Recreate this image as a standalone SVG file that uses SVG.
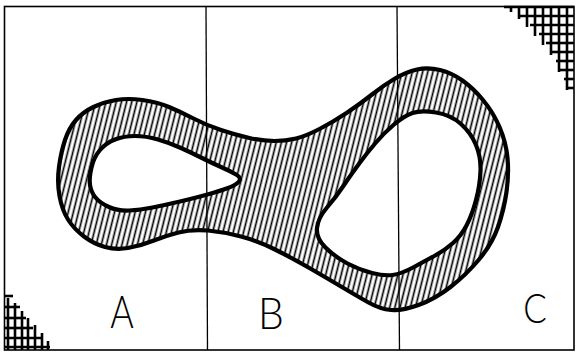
<svg xmlns="http://www.w3.org/2000/svg" width="576" height="353" viewBox="0 0 576 353">
<style>
.frame{fill:none;stroke:#000;stroke-width:1.6}
.div{fill:none;stroke:#000;stroke-width:1.3}
.edge{fill:none;stroke:#000;stroke-width:4.2;stroke-linejoin:round}
.band{fill:url(#hatch);fill-rule:evenodd;stroke:none}
.xh{stroke:#000;stroke-width:2.6;stroke-linecap:butt}
.lbl{font-family:Lato,"Open Sans","Liberation Sans",sans-serif;font-weight:300;fill:#000;text-anchor:middle}
</style>
<defs>
<pattern id="hatch" patternUnits="userSpaceOnUse" width="5" height="10" patternTransform="rotate(14)">
<rect width="5" height="10" fill="#fff"/>
<line x1="2.5" y1="0" x2="2.5" y2="10" stroke="#000" stroke-width="1.7"/>
</pattern>
<path id="outer" d="M59.5,196 Q57,182 59,167 Q61,152 65,140 Q69,128 76,120 Q83,112 93.5,107 Q104,102 116,100 Q128,98 142.5,100 Q157,102 169,107 Q181,112 193.5,118.5 Q206,125 221,130 Q236,135 249.5,138 Q263,141 274.5,141 Q286,141 296,138.5 Q306,136 319.5,129 Q333,122 346.5,113 Q360,104 372,94.5 Q384,85 395,78.5 Q406,72 417,69.5 Q428,67 440,70 Q452,73 462.5,80.5 Q473,88 483,100 Q493,112 499.5,127 Q506,142 507.5,158 Q509,174 506.5,192 Q504,210 498,227 Q492,244 479,259.5 Q466,275 450.5,287 Q435,299 418.5,305 Q402,311 391,310 Q380,309 368.5,302.5 Q357,296 341,286.5 Q325,277 308.5,267.5 Q292,258 275,249.5 Q258,241 241,236.5 Q224,232 208,230.5 Q192,229 178.5,232.5 Q165,236 152.5,241 Q140,246 128,248 Q116,250 105,247 Q94,244 84,236.5 Q74,229 68,219.5 Q62,210 59.5,196 Z"/>
<path id="holeA" d="M90,185 Q89,178 91.5,167.5 Q94,157 100,150 Q106,143 115,139.5 Q124,136 135,136 Q146,136 158,139.5 Q170,143 181,148 Q192,153 202,158 Q212,163 221,167 Q230,171 236,174.5 Q242,178 239,181.5 Q236,185 228,188 Q220,191 207.5,194.5 Q195,198 180,201.5 Q165,205 152.5,207.5 Q140,210 129,210.5 Q118,211 109,207 Q100,203 95.5,197.5 Q91,192 90,185 Z"/>
<path id="holeC" d="M375.5,143 Q384,133 394,124.5 Q404,116 412.5,113 Q421,110 436,112.5 Q451,115 461,124 Q471,133 476,145 Q481,157 480.5,171 Q480,185 476,200 Q472,215 466.5,225.5 Q461,236 453,243 Q445,250 436,255 Q427,260 414,267 Q401,274 392.5,275 Q384,276 372,273 Q360,270 347.5,263.5 Q335,257 325.5,247.5 Q316,238 317,228 Q318,218 327,207.5 Q336,197 343,186.5 Q350,176 358.5,164.5 Q367,153 375.5,143 Z"/>
</defs>
<rect width="576" height="353" fill="#fff"/>
<g id="band">
<path class="band" d="M59.5,196 Q57,182 59,167 Q61,152 65,140 Q69,128 76,120 Q83,112 93.5,107 Q104,102 116,100 Q128,98 142.5,100 Q157,102 169,107 Q181,112 193.5,118.5 Q206,125 221,130 Q236,135 249.5,138 Q263,141 274.5,141 Q286,141 296,138.5 Q306,136 319.5,129 Q333,122 346.5,113 Q360,104 372,94.5 Q384,85 395,78.5 Q406,72 417,69.5 Q428,67 440,70 Q452,73 462.5,80.5 Q473,88 483,100 Q493,112 499.5,127 Q506,142 507.5,158 Q509,174 506.5,192 Q504,210 498,227 Q492,244 479,259.5 Q466,275 450.5,287 Q435,299 418.5,305 Q402,311 391,310 Q380,309 368.5,302.5 Q357,296 341,286.5 Q325,277 308.5,267.5 Q292,258 275,249.5 Q258,241 241,236.5 Q224,232 208,230.5 Q192,229 178.5,232.5 Q165,236 152.5,241 Q140,246 128,248 Q116,250 105,247 Q94,244 84,236.5 Q74,229 68,219.5 Q62,210 59.5,196 Z M90,185 Q89,178 91.5,167.5 Q94,157 100,150 Q106,143 115,139.5 Q124,136 135,136 Q146,136 158,139.5 Q170,143 181,148 Q192,153 202,158 Q212,163 221,167 Q230,171 236,174.5 Q242,178 239,181.5 Q236,185 228,188 Q220,191 207.5,194.5 Q195,198 180,201.5 Q165,205 152.5,207.5 Q140,210 129,210.5 Q118,211 109,207 Q100,203 95.5,197.5 Q91,192 90,185 Z M375.5,143 Q384,133 394,124.5 Q404,116 412.5,113 Q421,110 436,112.5 Q451,115 461,124 Q471,133 476,145 Q481,157 480.5,171 Q480,185 476,200 Q472,215 466.5,225.5 Q461,236 453,243 Q445,250 436,255 Q427,260 414,267 Q401,274 392.5,275 Q384,276 372,273 Q360,270 347.5,263.5 Q335,257 325.5,247.5 Q316,238 317,228 Q318,218 327,207.5 Q336,197 343,186.5 Q350,176 358.5,164.5 Q367,153 375.5,143 Z"/>
<use href="#outer" class="edge"/>
<use href="#holeA" class="edge"/>
<use href="#holeC" class="edge"/>
</g>
<g id="frame">
<rect class="frame" x="4.5" y="6.5" width="569.5" height="343.5"/>
<line class="div" x1="206" y1="6.5" x2="207.5" y2="350"/>
<line class="div" x1="397" y1="6.5" x2="399.5" y2="350"/>
</g>
<g id="corner-tr">
<line class="xh" x1="504" y1="7" x2="574" y2="7"/>
<line class="xh" x1="519" y1="16" x2="574" y2="16"/>
<line class="xh" x1="530" y1="25" x2="574" y2="25"/>
<line class="xh" x1="539" y1="34" x2="574" y2="34"/>
<line class="xh" x1="546" y1="43" x2="574" y2="43"/>
<line class="xh" x1="552" y1="52" x2="574" y2="52"/>
<line class="xh" x1="556" y1="61" x2="574" y2="61"/>
<line class="xh" x1="560" y1="70" x2="574" y2="70"/>
<line class="xh" x1="564" y1="79" x2="574" y2="79"/>
<line class="xh" x1="568" y1="88" x2="574" y2="88"/>
<line class="xh" x1="511" y1="6" x2="511" y2="12"/>
<line class="xh" x1="519" y1="6" x2="519" y2="19"/>
<line class="xh" x1="527" y1="6" x2="527" y2="27"/>
<line class="xh" x1="535" y1="6" x2="535" y2="36"/>
<line class="xh" x1="543" y1="6" x2="543" y2="45"/>
<line class="xh" x1="551" y1="6" x2="551" y2="55"/>
<line class="xh" x1="559" y1="6" x2="559" y2="72"/>
<line class="xh" x1="567" y1="6" x2="567" y2="90"/>
</g>
<g id="corner-bl">
<line class="xh" x1="4" y1="296" x2="13" y2="296"/>
<line class="xh" x1="4" y1="307" x2="20" y2="307"/>
<line class="xh" x1="4" y1="318" x2="26" y2="318"/>
<line class="xh" x1="4" y1="328" x2="33" y2="328"/>
<line class="xh" x1="4" y1="338" x2="42" y2="338"/>
<line class="xh" x1="4" y1="347" x2="50" y2="347"/>
<line class="xh" x1="8" y1="298" x2="8" y2="350"/>
<line class="xh" x1="15" y1="303" x2="15" y2="350"/>
<line class="xh" x1="22" y1="311" x2="22" y2="350"/>
<line class="xh" x1="28" y1="318" x2="28" y2="350"/>
<line class="xh" x1="35" y1="325" x2="35" y2="350"/>
<line class="xh" x1="42" y1="333" x2="42" y2="350"/>
<line class="xh" x1="48" y1="341" x2="48" y2="350"/>
</g>
<g id="labels">
<text class="lbl" font-size="46" transform="translate(122,328) scale(0.78,1)">A</text>
<text class="lbl" font-size="43" transform="translate(271,329) scale(0.95,1)">B</text>
<text class="lbl" font-size="41" transform="translate(535,323) scale(0.85,1)">C</text>
</g>
</svg>
